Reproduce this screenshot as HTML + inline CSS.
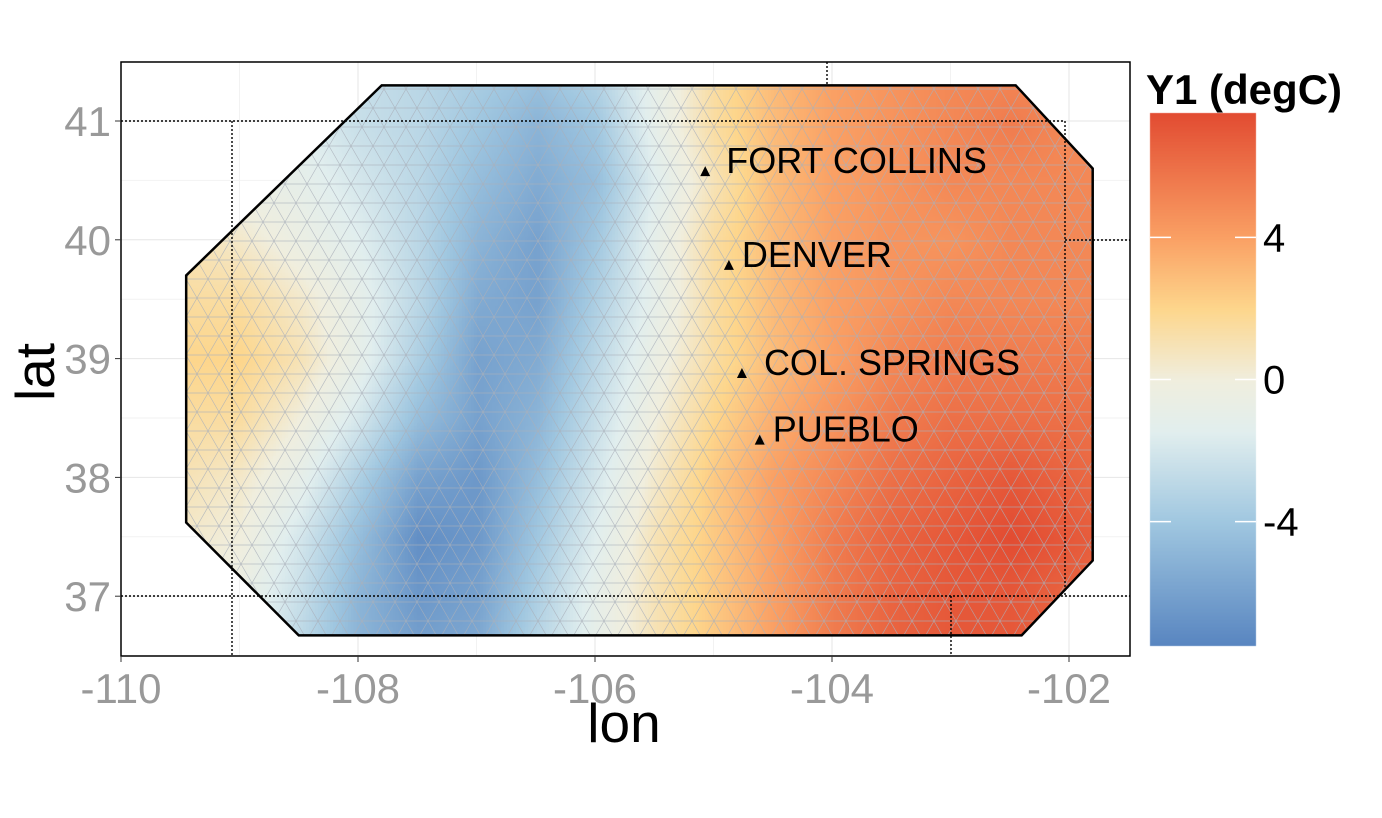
<!DOCTYPE html>
<html><head><meta charset="utf-8">
<style>
body{margin:0;background:#fff;font-family:"Liberation Sans",Arial,sans-serif;}
svg{position:absolute;left:0;top:0}
canvas{position:absolute;left:0;top:0}
</style></head>
<body>
<svg id="gridsvg" width="1382" height="818"></svg>
<canvas id="heat" width="1382" height="818"></canvas>
<svg id="chart" width="1382" height="818"></svg>
<script>
const lons=[-109.5,-109,-108.5,-108,-107.5,-107,-106.5,-106,-105.5,-105,-104.5,-104,-103.5,-103,-102.5,-102,-101.5];
const lats=[41.5,41,40.5,40,39.5,39,38.5,38,37.5,37,36.5];
const vals=[
[-1,-1.5,-2,-2.5,-3,-3.5,-4,-3,-1,1.5,3,4,4.5,5,5,5,5],
[-0.5,-1,-1.5,-2.5,-3,-4,-5,-4,-1,1.5,3,4,4.5,5,5.5,5,5],
[0,-0.5,-1,-2,-3,-4.5,-5.5,-4.5,-1.5,1,3,4,4.5,5,5,5,5],
[1,0.5,-0.5,-1.5,-3,-5,-6,-4,-1,1.5,3,4,4.5,4.5,5,5,5],
[1.5,1.5,0.5,-1,-3,-5.5,-6,-3.5,-1,1.5,3,4,4.5,5,5,5,5],
[2,2,1,-1,-3.5,-6,-5.5,-3,-0.5,1.5,3,4,5,5.5,5.5,5.5,5.5],
[1.5,1.5,0,-2,-4.5,-6,-5,-2.5,0,2,3.5,4.5,5.5,6,6,6,6],
[1,0.5,-1,-3.5,-6,-6.5,-4.5,-2,0.5,2.5,4,5,6,6.5,7,6.5,6],
[0.5,0,-2,-4.5,-7,-6.5,-4,-1.5,1,2.5,4,5.5,6.5,7,7.5,7,6.5],
[0.5,-0.5,-2.5,-5,-6.5,-6,-3.5,-1,1,2.5,4,5.5,6.5,7,7,6.5,6],
[0,-1,-3,-5,-6,-5.5,-3,-1,1,2.5,4,5.5,6.5,7,7,6.5,6]];
const xTicks=[-110,-108,-106,-104,-102];
const yTicks=[37,38,39,40,41];
const legendTicks=[-4,0,4];
const cityNames=["FORT COLLINS","DENVER","COL. SPRINGS","PUEBLO"];
const cityLon=[-105.07,-104.87,-104.76,-104.61];
const cityLat=[40.57,39.78,38.87,38.31];
const hullLon=[-107.8,-102.45,-101.8,-101.8,-102.4,-108.5,-109.45,-109.45];
const hullLat=[41.3,41.3,40.6,37.3,36.67,36.67,37.62,39.7];

const X=l=>121+(l+110)*118.5, Y=a=>121+(41-a)*118.8;
const vmin=-7.5,vmax=7.5;
const stops=[[-7.5,[88,133,192]],[-4,[160,199,224]],[-1.5,[225,238,238]],[0,[240,238,222]],[2,[253,214,140]],[4,[250,160,100]],[7.5,[226,76,50]]];
function col(v){v=Math.max(vmin,Math.min(vmax,v));for(let i=0;i<stops.length-1;i++){const[a,ca]=stops[i],[b,cb]=stops[i+1];if(v<=b){const t=(v-a)/(b-a);return ca.map((c,k)=>Math.round(c+(cb[k]-c)*t));}}return stops[stops.length-1][1];}
function interp(lon,lat){let fx=(lon-lons[0])/0.5,fy=(lats[0]-lat)/0.5;fx=Math.max(0,Math.min(lons.length-1.001,fx));fy=Math.max(0,Math.min(lats.length-1.001,fy));const i=Math.floor(fx),j=Math.floor(fy),tx=fx-i,ty=fy-j;return vals[j][i]*(1-tx)*(1-ty)+vals[j][i+1]*tx*(1-ty)+vals[j+1][i]*(1-tx)*ty+vals[j+1][i+1]*tx*ty;}
const cv=document.getElementById('heat'),ctx=cv.getContext('2d');
ctx.beginPath();hullLon.forEach((l,i)=>{i?ctx.lineTo(X(l),Y(hullLat[i])):ctx.moveTo(X(l),Y(hullLat[i]));});ctx.closePath();ctx.save();ctx.clip();
for(let px=180;px<1110;px+=3)for(let py=75;py<645;py+=3){const lon=(px-121)/118.5-110,lat=41-(py-121)/118.8;const c=col(interp(lon,lat));ctx.fillStyle=`rgb(${c})`;ctx.fillRect(px,py,3,3);}
ctx.restore();
for(let py=113;py<646;py++){const v=vmax-(py-113)/(646-113)*(vmax-vmin);const c=col(v);ctx.fillStyle=`rgb(${c})`;ctx.fillRect(1150,py,106,1);}

const NS='http://www.w3.org/2000/svg';
const gsvg=document.getElementById('gridsvg');const svg=document.getElementById('chart');
function mk(t,a,p){const e=document.createElementNS(NS,t);for(const k in a)e.setAttribute(k,a[k]);(p||svg).appendChild(e);return e;}
const grid=mk('g',{},gsvg);
for(let l=-110;l<=-101.5;l+=1)mk('line',{x1:X(l),x2:X(l),y1:62,y2:656,stroke:l%2===0?'#e6e6e6':'#f2f2f2','stroke-width':1},grid);
for(let a=36.5;a<=41.5;a+=0.5)mk('line',{x1:121,x2:1130,y1:Y(a),y2:Y(a),stroke:a%1===0?'#e6e6e6':'#f2f2f2','stroke-width':1},grid);
mk('clipPath',{id:'hc'}).appendChild(mk('polygon',{points:hullLon.map((l,i)=>X(l)+','+Y(hullLat[i])).join(' ')}));
const mesh=mk('g',{stroke:'#aab0ba','stroke-width':0.7,fill:'none',opacity:0.8,'clip-path':'url(#hc)'});
let d='';const s=22,h=19;
for(let r=0;r<32;r++){const y=70+r*h,off=(r%2)*s/2;for(let c=0;c<46;c++){const x=175+c*s+off;d+=`M${x},${y}L${x+s},${y}M${x},${y}L${x+s/2},${y+h}M${x+s},${y}L${x+s/2},${y+h}`;}}
mk('path',{d},mesh);
const hull=mk('polygon',{points:hullLon.map((l,i)=>X(l)+','+Y(hullLat[i])).join(' '),fill:'none',stroke:'#000','stroke-width':2.5});

const st=mk('g',{stroke:'#000','stroke-width':1.4,'stroke-dasharray':'2,2',fill:'none'});
mk('path',{d:'M121,121H1065V596M232,121V656M121,596H1130M827,62V84M1065,240H1130M951,596V656'},st);
const pb=mk('rect',{x:121,y:62,width:1009,height:594,fill:'none',stroke:'#000','stroke-width':1.5});
const cityDx=[21,13,22,13];
cityNames.forEach((n,i)=>{const x=X(cityLon[i]),y=Y(cityLat[i]);
const g=mk('g',{});
mk('polygon',{points:`${x},${y-6} ${x-5},${y+4} ${x+5},${y+4}`,fill:'#000'},g);
const t=mk('text',{x:x+cityDx[i],y:y+1,'font-size':36,fill:'#000','textLength':0},g);t.removeAttribute('textLength');t.textContent=n;});
xTicks.forEach(v=>{mk('line',{x1:X(v),x2:X(v),y1:656,y2:662,stroke:'#333'});const t=mk('text',{x:X(v),y:703,'font-size':42,fill:'#999','text-anchor':'middle'});t.textContent=v;});
yTicks.forEach(v=>{mk('line',{x1:115,x2:121,y1:Y(v),y2:Y(v),stroke:'#333'});const t=mk('text',{x:111,y:Y(v)+15,'font-size':42,fill:'#999','text-anchor':'end'});t.textContent=v;});
let t=mk('text',{x:624,y:742,'font-size':55,'text-anchor':'middle'});t.textContent='lon';
t=mk('text',{x:54,y:372,'font-size':55,'text-anchor':'middle',transform:'rotate(-90 54 372)'});t.textContent='lat';
t=mk('text',{x:1146,y:104,'font-size':42,'font-weight':'bold'});t.textContent='Y1 (degC)';
const LY=v=>113+(vmax-v)/(vmax-vmin)*533;
legendTicks.forEach(v=>{mk('line',{x1:1150,x2:1171,y1:LY(v),y2:LY(v),stroke:'#fff','stroke-width':1.5});mk('line',{x1:1235,x2:1256,y1:LY(v),y2:LY(v),stroke:'#fff','stroke-width':1.5});
const tt=mk('text',{x:1263,y:LY(v)+14,'font-size':40});tt.textContent=v;});
</script>
</body></html>
